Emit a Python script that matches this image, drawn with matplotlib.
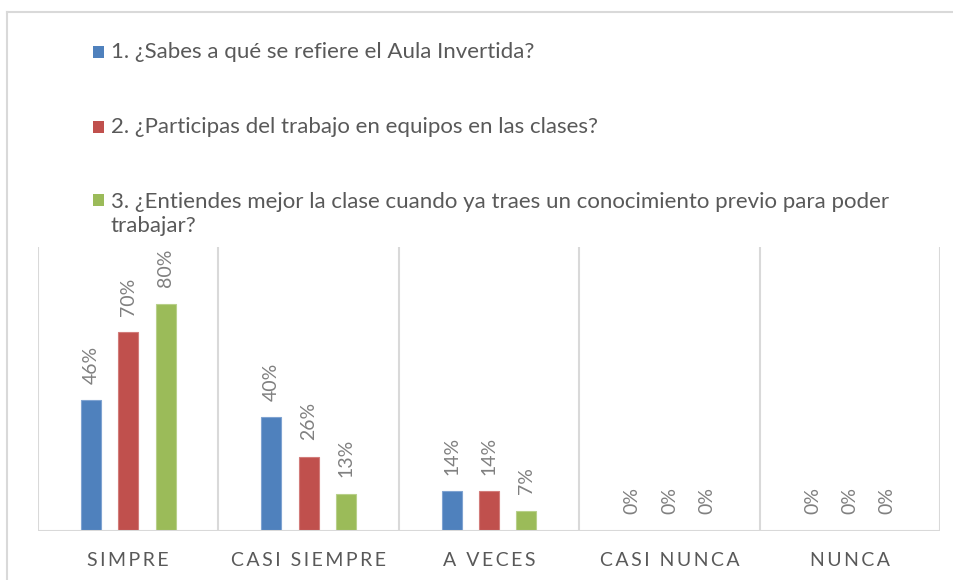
import matplotlib
matplotlib.use("Agg")
import matplotlib.pyplot as plt
from matplotlib.patches import Rectangle
from matplotlib.lines import Line2D
import numpy as np

plt.rcParams['font.family'] = ['Lato', 'DejaVu Sans']

# Data
categories = ["SIMPRE", "CASI SIEMPRE", "A VECES", "CASI NUNCA", "NUNCA"]
q1 = [0.46, 0.40, 0.14, 0.0, 0.0]
q2 = [0.70, 0.26, 0.14, 0.0, 0.0]
q3 = [0.80, 0.13, 0.07, 0.0, 0.0]
series_labels = [
    "1. ¿Sabes a qué se refiere el Aula Invertida?",
    "2. ¿Participas del trabajo en equipos en las clases?",
    "3. ¿Entiendes mejor la clase cuando ya traes un conocimiento previo para poder\ntrabajar?",
]
colors = ["#4F81BD", "#C0504D", "#9BBB59"]
edge_colors = ["#7FA3D1", "#D27C7A", "#B8D08A"]

W, H = 954, 580
fig = plt.figure(figsize=(W / 100, H / 100), dpi=100)

# outer frame lines (top and left only, like the cropped screenshot)
fig.add_artist(Line2D([7 / W, 1], [1 - 12 / H, 1 - 12 / H], color="#D9D9D9", lw=1.5))
fig.add_artist(Line2D([7 / W, 7 / W], [0, 1 - 12 / H], color="#D9D9D9", lw=1.5))

ax = fig.add_axes([38 / W, (H - 531) / H, (940 - 38) / W, (531 - 247) / H])
ax.set_xlim(-0.5, len(categories) - 0.5)
ax.set_ylim(0, 1.0)
for s in ax.spines.values():
    s.set_visible(False)

x = np.arange(len(categories))
offset = 0.207
width = 0.111
for i, vals in enumerate([q1, q2, q3]):
    pos = x + (i - 1) * offset
    bars = ax.bar(pos, vals, width=width, color=colors[i],
                  edgecolor=edge_colors[i], linewidth=0.8, zorder=3)
    for b, v in zip(bars, vals):
        ax.annotate(f"{v * 100:.0f}%", (b.get_x() + b.get_width() / 2, v),
                    xytext=(0, 12), textcoords="offset points",
                    rotation=90, ha="center", va="bottom",
                    fontsize=14, color="#808080")

# category separators and baseline
for xv in np.arange(-0.5, len(categories), 1.0):
    ax.axvline(xv, color="#D9D9D9", lw=1.5, zorder=1)
ax.axhline(0, color="#D9D9D9", lw=1.5, zorder=4)

ax.set_yticks([])
ax.set_xticks(x)
ax.set_xticklabels(["\u2009".join(c) for c in categories],
                   fontsize=14, color="#595959")
ax.tick_params(axis="x", length=0, pad=15)

# legend drawn as squares + text at the top
leg_y = [52, 127, 200]
for lbl, col, yy in zip(series_labels, colors, leg_y):
    fig.add_artist(Rectangle((93 / W, 1 - (yy + 6) / H), 11 / W, 12 / H,
                             facecolor=col, edgecolor="none"))
    n_lines = lbl.count("\n") + 1
    fig.text(111 / W, 1 - (yy + 14 * (n_lines - 1)) / H, lbl, fontsize=16,
             color="#595959", va="center", linespacing=1.25)

fig.savefig("out.png", dpi=100)
